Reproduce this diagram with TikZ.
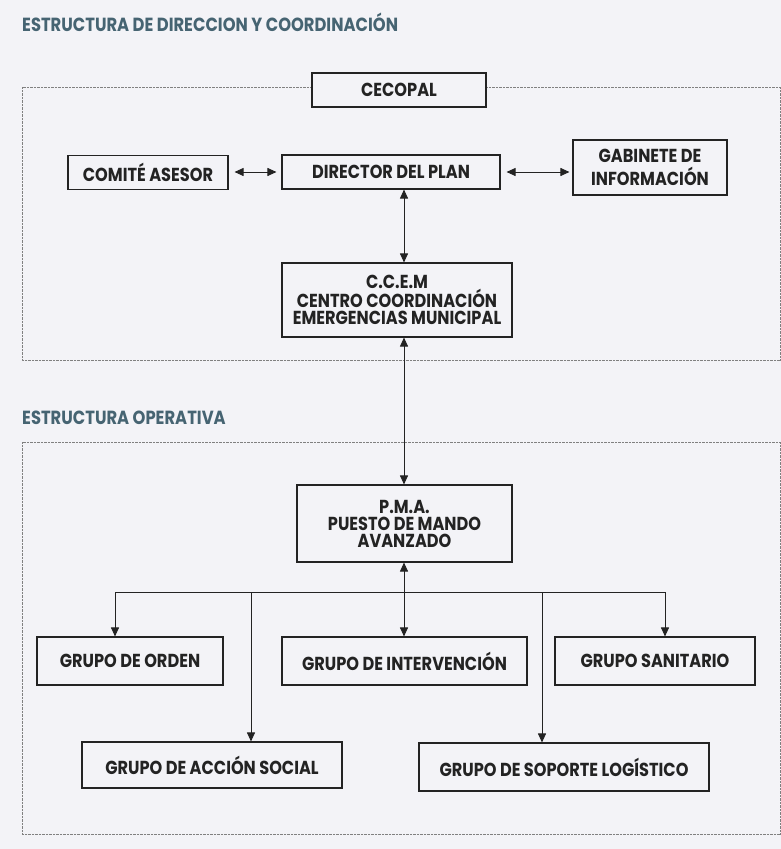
\documentclass[tikz,border=0pt]{standalone}
\usepackage{fontspec}
\setmainfont{Poppins}[FakeStretch=0.86]
\usetikzlibrary{arrows.meta, positioning}
\definecolor{paper}{RGB}{243,243,247}
\definecolor{ink}{RGB}{35,35,35}
\definecolor{headcol}{RGB}{70,100,114}

\begin{document}
\begin{tikzpicture}[
  x=1pt, y=-1pt,
  box/.style={rectangle, draw=ink, line width=1.1pt, fill=paper, font=\fontsize{18.8}{17}\selectfont\bfseries, text=ink, align=center, inner sep=0pt},
  line/.style={draw=ink, line width=0.9pt},
  arrow/.style={line, -{Triangle[length=9pt,width=8pt]}},
  both/.style={line, {Triangle[length=9pt,width=8pt]}-{Triangle[length=9pt,width=8pt]}},
  frame/.style={draw=gray, line width=0.7pt, dash pattern=on 0.7pt off 0.7pt},
  head/.style={anchor=west, font=\fontsize{19}{20}\selectfont\bfseries, text=headcol, inner sep=0pt}
]
  \fill[paper] (0,0) rectangle (781,849);

  % titles and dotted frames
  \node[head] (tdir) at (22,22.5) {ESTRUCTURA DE DIRECCION Y COORDINACIÓN};
  \node[head] (top) at (22,417.5) {ESTRUCTURA OPERATIVA};
  \draw[frame] (22,87) rectangle (780,360);
  \draw[frame] (22,442) rectangle (780,834);

  % direction
  \node[box, minimum width=174pt, minimum height=34pt] (cecopal) at (399,90) {CECOPAL};
  \node[box, minimum width=160pt, minimum height=34pt] (comite) at (148,172.5) {COMITÉ ASESOR};
  \node[box, minimum width=218pt, minimum height=34pt] (director) at (391,172) {DIRECTOR DEL PLAN};
  \node[box, minimum width=154pt, minimum height=55pt] (gabinete) at (650,167.5) {GABINETE DE\\[4pt]INFORMACIÓN};
  \node[box, minimum width=230pt, minimum height=74pt] (ccem) at (397,300) {C.C.E.M\\CENTRO COORDINACIÓN\\EMERGENCIAS MUNICIPAL};

  % operative
  \node[box, minimum width=215pt, minimum height=77pt] (pma) at (404.5,523.5) {P.M.A.\\PUESTO DE MANDO\\AVANZADO};
  \node[box, minimum width=186pt, minimum height=48pt] (orden) at (130,661) {GRUPO DE ORDEN};
  \node[box, minimum width=245pt, minimum height=48pt] (interv) at (404.5,661) {GRUPO DE INTERVENCIÓN};
  \node[box, minimum width=200pt, minimum height=48pt] (sanit) at (655,661) {GRUPO SANITARIO};
  \node[box, minimum width=260pt, minimum height=46pt] (accion) at (212,765) {GRUPO DE ACCIÓN SOCIAL};
  \node[box, minimum width=290pt, minimum height=48pt] (soporte) at (564,767) {GRUPO DE SOPORTE LOGÍSTICO};

  \coordinate (axis) at (404,0);
  \coordinate (b1) at (115,592);
  \coordinate (b2) at (251,592);
  \coordinate (b3) at (542,592);
  \coordinate (b4) at (665,592);

  \draw[both, shorten <=6pt, shorten >=5pt] (comite.east |- director) -- (director.west);
  \draw[both, shorten <=6pt, shorten >=3pt] (director.east) -- (director.east -| gabinete.west);
  \draw[both] (director.south -| axis) -- (ccem.north -| axis);
  \draw[both] (ccem.south -| axis) -- (pma.north -| axis);
  \draw[both] (pma.south -| axis) -- (interv.north -| axis);

  \draw[line] (b1) -- (b4);
  \foreach \c/\n in {b1/orden, b2/accion, b3/soporte, b4/sanit}
    \draw[arrow] (\c) -- (\c |- \n.north);
\end{tikzpicture}
\end{document}
